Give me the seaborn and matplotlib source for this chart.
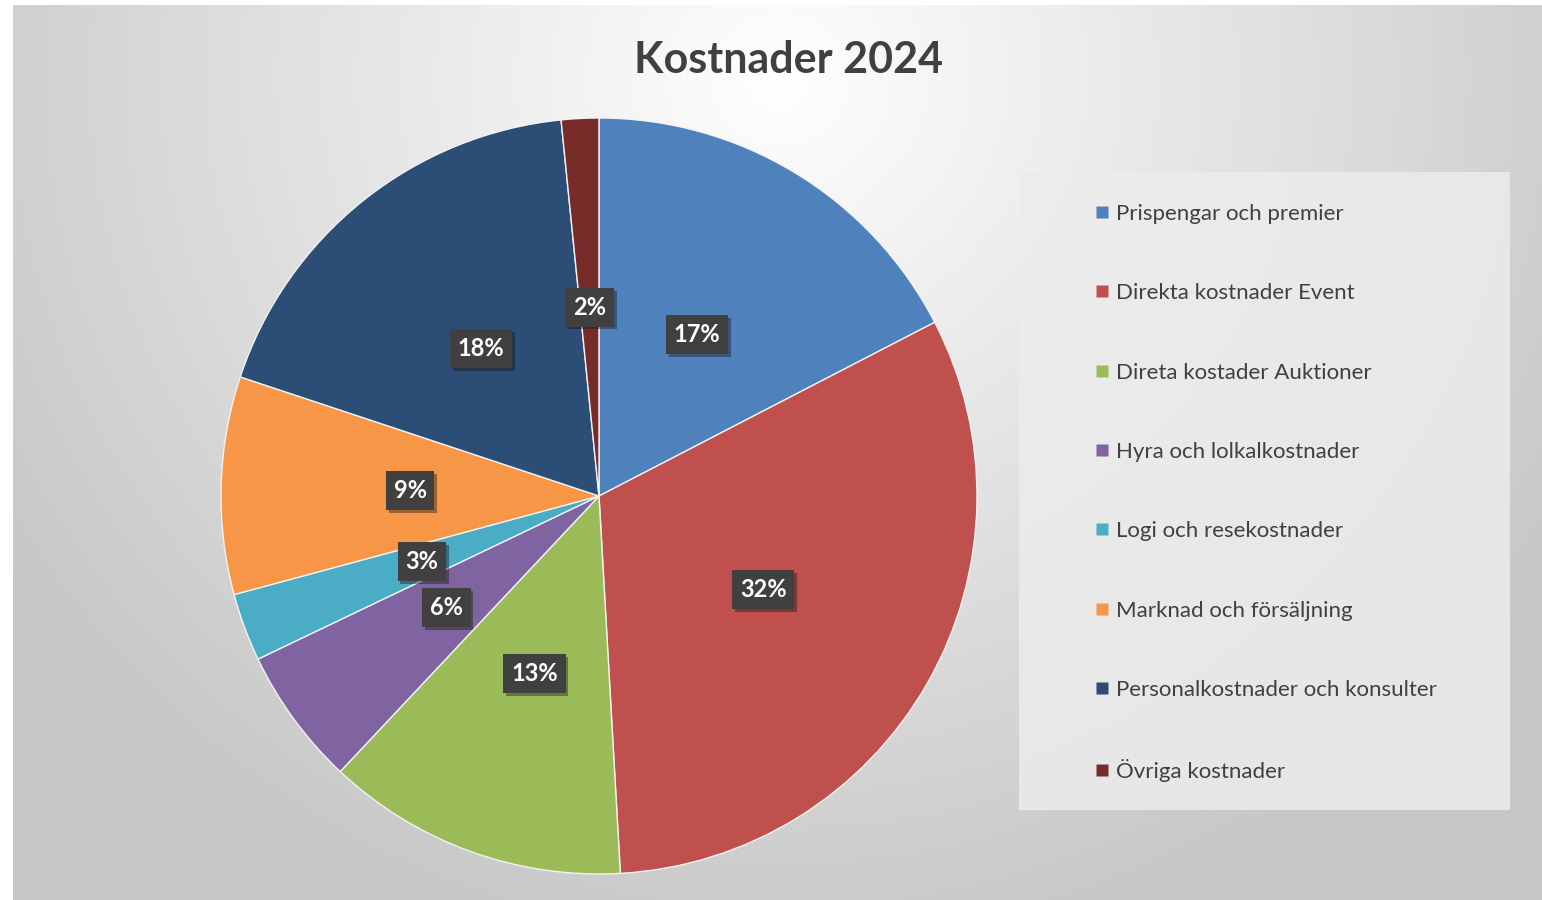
import numpy as np
import matplotlib
matplotlib.use("Agg")
import matplotlib.pyplot as plt
import matplotlib.patheffects as pe
from matplotlib.lines import Line2D
from matplotlib.patches import Rectangle
import seaborn as sns

categories = [
    "Prispengar och premier",
    "Direkta kostnader Event",
    "Direta kostader Auktioner",
    "Hyra och lolkalkostnader",
    "Logi och resekostnader",
    "Marknad och försäljning",
    "Personalkostnader och konsulter",
    "Övriga kostnader",
]
values = [17.4, 31.7, 12.9, 5.9, 2.9, 9.3, 18.3, 1.6]
colors = ["#4F81BD", "#C0504D", "#9BBB59", "#8064A2", "#4BACC6", "#F79646", "#2C4D75", "#772C2A"]
title = "Kostnader 2024"

sns.set_theme(style="white")
plt.rcParams["font.family"] = ["Lato", "DejaVu Sans"]
palette = sns.color_palette(colors)

W, H = 1542, 900
fig = plt.figure(figsize=(W / 100, H / 100), dpi=100)
fig.patch.set_facecolor("white")

# background gradient panel
bg = fig.add_axes([13 / W, 0, 1 - 13 / W, (H - 5) / H])
bg.set_axis_off()
ny, nx = 300, 520
yy, xx = np.mgrid[0:ny, 0:nx]
cx, cy = nx * 0.50, ny * 0.08
d = np.sqrt(((xx - cx) / (nx * 0.60)) ** 2 + ((yy - cy) / (ny * 1.0)) ** 2)
d = np.clip(d, 0, 1)
g = 1.0 - (1.0 - 0.78) * d ** 1.0
img = np.dstack([g, g, g])
bg.imshow(img, aspect="auto", extent=[0, 1, 0, 1], origin="upper", interpolation="bilinear")
bg.set_xlim(0, 1)
bg.set_ylim(0, 1)

# legend panel
fig.patches.append(Rectangle((1019 / W, 1 - 810 / H), (1510 - 1019) / W, (810 - 172) / H,
                             transform=fig.transFigure, facecolor="#ececec", edgecolor="none",
                             alpha=0.85, zorder=1))

# pie
r = 378
ax = fig.add_axes([(599 - r) / W, (H - 496 - r) / H, 2 * r / W, 2 * r / H])
wedges, texts, autotexts = ax.pie(
    values, colors=palette, startangle=90, counterclock=False,
    autopct="%1.0f%%", pctdistance=0.5,
    wedgeprops=dict(edgecolor="#f2f2f2", linewidth=1.0),
    textprops=dict(color="white", fontsize=17, fontweight="bold"),
)
ax.set_xlim(-1, 1)
ax.set_ylim(-1, 1)
ax.set_aspect("equal")
ax.set_axis_off()
for t in autotexts:
    t.set_bbox(dict(boxstyle="square,pad=0.33", facecolor="#404040", edgecolor="none"))
    t.get_bbox_patch().set_path_effects([pe.SimplePatchShadow(offset=(2, -2), alpha=0.4), pe.Normal()])

fig.text(789 / W, 1 - 60 / H, title, ha="center", va="center",
         fontsize=31, fontweight="bold", color="#404040")

handles = [Line2D([0], [0], marker="s", linestyle="none", markersize=9,
                  markerfacecolor=c, markeredgecolor="none") for c in palette]
leg = fig.legend(handles, categories, loc="upper left",
                 bbox_to_anchor=(1084 / W, 1 - 195 / H), frameon=False,
                 fontsize=16, labelcolor="#404040", handlelength=0.8,
                 handletextpad=0.25, labelspacing=2.67, borderaxespad=0)

fig.savefig("out.png", dpi=100)
